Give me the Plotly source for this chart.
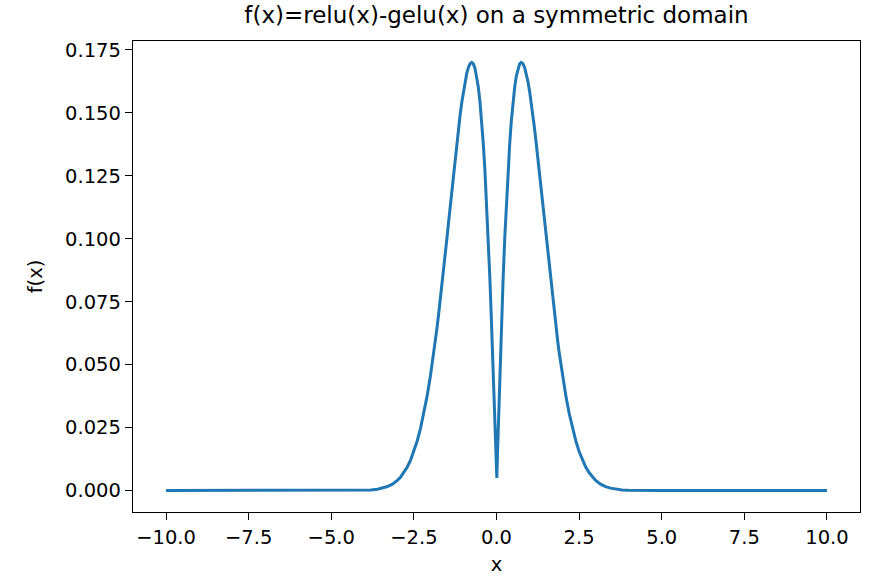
import plotly.graph_objects as go

# Right half (x > 0) of f(x)=relu(x)-gelu(x);
# the curve in the chart is mirror-symmetric about x = 0.
x_right = [0.01, 0.03, 0.05, 0.07, 0.1, 0.12, 0.15, 0.2, 0.25, 0.3, 0.35, 0.4, 0.45, 0.5,
           0.55, 0.6, 0.65, 0.7, 0.75, 0.8, 0.85, 0.9, 0.95, 1.0, 1.05, 1.1, 1.15, 1.2,
           1.25, 1.3, 1.35, 1.4, 1.45, 1.5, 1.55, 1.6, 1.65, 1.7, 1.75, 1.8, 1.85, 1.9,
           1.95, 2.0, 2.1, 2.2, 2.3, 2.4, 2.5, 2.6, 2.7, 2.8, 2.9, 3.0, 3.15, 3.3, 3.45,
           3.6, 3.8, 4.0, 4.5, 5.0, 6.0, 8.0, 10.0]
y_right = [0.005, 0.0146, 0.024, 0.033, 0.046, 0.0543, 0.0661, 0.0841, 0.1003, 0.1146,
           0.1271, 0.1378, 0.1469, 0.1543, 0.1602, 0.1646, 0.1676, 0.1694, 0.1700, 0.1695,
           0.1680, 0.1657, 0.1625, 0.1587, 0.1542, 0.1493, 0.1439, 0.1381, 0.1320, 0.1258,
           0.1195, 0.1131, 0.1066, 0.1002, 0.0939, 0.0877, 0.0817, 0.0758, 0.0702, 0.0646,
           0.0596, 0.0545, 0.0499, 0.0455, 0.0375, 0.0306, 0.0247, 0.0197, 0.0155, 0.0121,
           0.00937, 0.00716, 0.00542, 0.00405, 0.00257, 0.0016, 0.00097, 0.00057, 0.00027,
           0.00013, 0.00002, 0.0, 0.0, 0.0, 0.0]

x_vals = [-v for v in reversed(x_right)] + x_right
y_vals = list(reversed(y_right)) + y_right

x_ticks = [-10.0, -7.5, -5.0, -2.5, 0.0, 2.5, 5.0, 7.5, 10.0]
x_tick_labels = ["−10.0", "−7.5", "−5.0", "−2.5", "0.0", "2.5", "5.0", "7.5", "10.0"]
y_ticks = [0.0, 0.025, 0.05, 0.075, 0.1, 0.125, 0.15, 0.175]
y_tick_labels = ["0.000", "0.025", "0.050", "0.075", "0.100", "0.125", "0.150", "0.175"]

fig = go.Figure()
fig.add_trace(go.Scatter(x=x_vals, y=y_vals, mode="lines",
                         line=dict(color="#1f77b4", width=3), showlegend=False))

font_family = "DejaVu Sans"
axis_common = dict(showline=True, linecolor="black", linewidth=1.4, mirror=True,
                   ticks="outside", ticklen=7, tickwidth=1.4, tickcolor="black",
                   showgrid=False, zeroline=False, automargin=False,
                   tickfont=dict(family=font_family, size=19.5, color="black"))

fig.update_layout(
    width=869, height=576,
    margin=dict(l=133, r=9, t=41, b=64),
    paper_bgcolor="white", plot_bgcolor="white",
    title=dict(text="f(x)=relu(x)-gelu(x) on a symmetric domain", x=0.5, xanchor="center",
               xref="paper", y=1 - 15 / 576, yanchor="middle",
               font=dict(family=font_family, size=23, color="black")),
    xaxis=dict(range=[-11, 11], tickvals=x_ticks, ticktext=x_tick_labels,
               title=dict(text="x", font=dict(family=font_family, size=19.5, color="black"), standoff=10),
               **axis_common),
    yaxis=dict(range=[-0.0085, 0.1785], tickvals=y_ticks, ticktext=y_tick_labels,
               title=dict(text="f(x)", font=dict(family=font_family, size=19.5, color="black"), standoff=17),
               **axis_common),
)

fig.write_html("out.html")
